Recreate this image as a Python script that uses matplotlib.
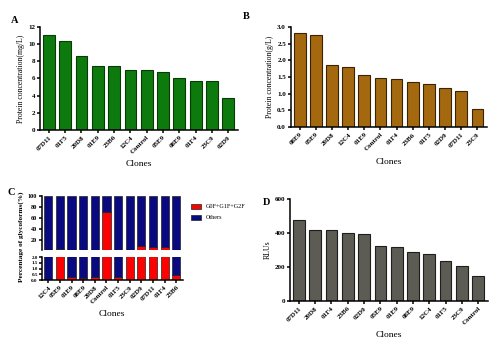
import numpy as np
import matplotlib
matplotlib.use("Agg")
import matplotlib.pyplot as plt
from matplotlib.patches import Patch

plt.rcParams['font.family'] = ['Liberation Serif', 'DejaVu Serif']
plt.rcParams['font.weight'] = 'bold'

# Panel A: protein concentration (mg/L)
clones_a = ['07D11', '01F5', '20D8', '01E9', '23B6', '12C4', 'Control',
            '05E9', '08E9', '01F4', '23C9', '02D9']
conc_a = [11.1, 10.3, 8.6, 7.45, 7.4, 7.0, 7.0, 6.7, 6.0, 5.7, 5.7, 3.75]

# Panel B: protein concentration (g/L)
clones_b = ['08E9', '05E9', '20D8', '12C4', '01E9', 'Control', '01F4',
            '23B6', '01F5', '02D9', '07D11', '23C9']
conc_b = [2.83, 2.75, 1.85, 1.8, 1.55, 1.46, 1.44, 1.36, 1.28, 1.18, 1.09, 0.55]

# Panel C: glycoform percentages
clones_c = ['12C4', '05E9', '01E9', '08E9', '20D8', 'Control', '01F5',
            '23C9', '02D9', '07D11', '01F4', '23B6']
g0f_g1f_g2f = [0.02, 4.0, 0.25, 0.15, 0.3, 70.0, 0.3, 2.5, 10.0, 7.0, 8.0, 0.4]
others = [100 - v for v in g0f_g1f_g2f]

# Panel D: RLUs
clones_d = ['07D11', '20D8', '01F4', '23B6', '02D9', '05E9', '01E9',
            '08E9', '12C4', '01F5', '23C9', 'Control']
rlu_d = [475, 418, 415, 400, 395, 322, 315, 285, 278, 235, 205, 147]

fig = plt.figure(figsize=(4.98, 3.54), dpi=100)

TICK_FS = 5
LAB_FS = 5.6
SPINE_W = 1.1


def style(ax, bottom=True):
    for s in ['top', 'right']:
        ax.spines[s].set_visible(False)
    ax.spines['left'].set_linewidth(SPINE_W)
    ax.spines['bottom'].set_linewidth(SPINE_W)
    if not bottom:
        ax.spines['bottom'].set_visible(False)
    ax.tick_params(direction='out', width=SPINE_W, length=2.5,
                   labelsize=TICK_FS, pad=1)


def bar_panel(rect, clones, vals, color, edge, ylim, yticks, ylabel, fmt):
    ax = fig.add_axes(rect)
    x = np.arange(len(clones))
    ax.bar(x, vals, width=0.72, color=color, edgecolor=edge, linewidth=0.8)
    ax.set_xlim(-0.55, len(clones) - 0.4)
    ax.set_ylim(*ylim)
    ax.set_yticks(yticks)
    ax.set_yticklabels([fmt.format(t) for t in yticks])
    ax.set_xticks(x)
    ax.set_xticklabels(clones, rotation=45, ha='right', rotation_mode='anchor')
    ax.set_xlabel('Clones', fontsize=6.8, labelpad=4)
    ax.set_ylabel(ylabel, fontsize=LAB_FS, labelpad=2)
    style(ax)
    return ax


bar_panel([0.080, 0.633, 0.398, 0.291], clones_a, conc_a, '#0d7a0d', '#0a3a0a',
          (0, 12), [0, 2, 4, 6, 8, 10, 12], 'Protein concentration(mg/L)', '{:d}')
bar_panel([0.584, 0.641, 0.394, 0.283], clones_b, conc_b, '#a4680f', '#3a2406',
          (0, 3.0), [0, 0.5, 1.0, 1.5, 2.0, 2.5, 3.0], 'Protein concentration(g/L)', '{:.1f}')
bar_panel([0.582, 0.150, 0.398, 0.288], clones_d, rlu_d, '#5c5c54', '#1e1e1a',
          (0, 600), [0, 200, 400, 600], 'RLUs', '{:d}')

# Panel C: broken-axis stacked bars
red = '#ff0000'
navy = '#0a0a80'
xc = np.arange(len(clones_c))
ax_up = fig.add_axes([0.084, 0.294, 0.283, 0.153])
ax_lo = fig.add_axes([0.084, 0.209, 0.283, 0.065])
for ax in (ax_up, ax_lo):
    ax.bar(xc, g0f_g1f_g2f, width=0.7, color=red, edgecolor='#222222', linewidth=0.5)
    ax.bar(xc, others, bottom=g0f_g1f_g2f, width=0.7, color=navy,
           edgecolor='#222222', linewidth=0.5)
    ax.set_xlim(-0.55, len(clones_c) - 0.45)
ax_up.set_ylim(2, 100)
ax_up.set_yticks([20, 40, 60, 80, 100])
ax_up.set_xticks([])
style(ax_up, bottom=False)
ax_up.tick_params(labelsize=4.5)
ax_lo.set_ylim(0, 2.0)
ax_lo.set_yticks([0, 0.5, 1.0, 1.5, 2.0])
ax_lo.set_yticklabels(['0.0', '0.5', '1.0', '1.5', '2.0'])
ax_lo.set_xticks(xc)
ax_lo.set_xticklabels(clones_c, rotation=45, ha='right', rotation_mode='anchor')
ax_lo.set_xlabel('Clones', fontsize=6.8, labelpad=4)
style(ax_lo)
ax_lo.tick_params(axis='y', labelsize=3.6, length=2)
fig.text(0.042, 0.33, 'Percentage of glycoforms(%)', rotation=90,
         fontsize=5.2, ha='center', va='center', fontweight='bold')
ax_up.legend(handles=[Patch(facecolor=red, edgecolor='#222222', linewidth=0.5),
                      Patch(facecolor=navy, edgecolor='#222222', linewidth=0.5)],
             labels=['G0F+G1F+G2F', 'Others'], loc='upper left',
             bbox_to_anchor=(1.02, 0.95), frameon=False,
             handlelength=1.6, handleheight=0.8, labelspacing=0.9,
             prop={'family': 'Liberation Serif', 'weight': 'normal', 'size': 4.4})

# Panel letters
for lx, ly, s in [(0.022, 0.955, 'A'), (0.488, 0.965, 'B'),
                  (0.016, 0.47, 'C'), (0.528, 0.44, 'D')]:
    fig.text(lx, ly, s, fontsize=7.5, fontweight='bold', ha='left', va='top')

fig.savefig('out.png', dpi=100)
